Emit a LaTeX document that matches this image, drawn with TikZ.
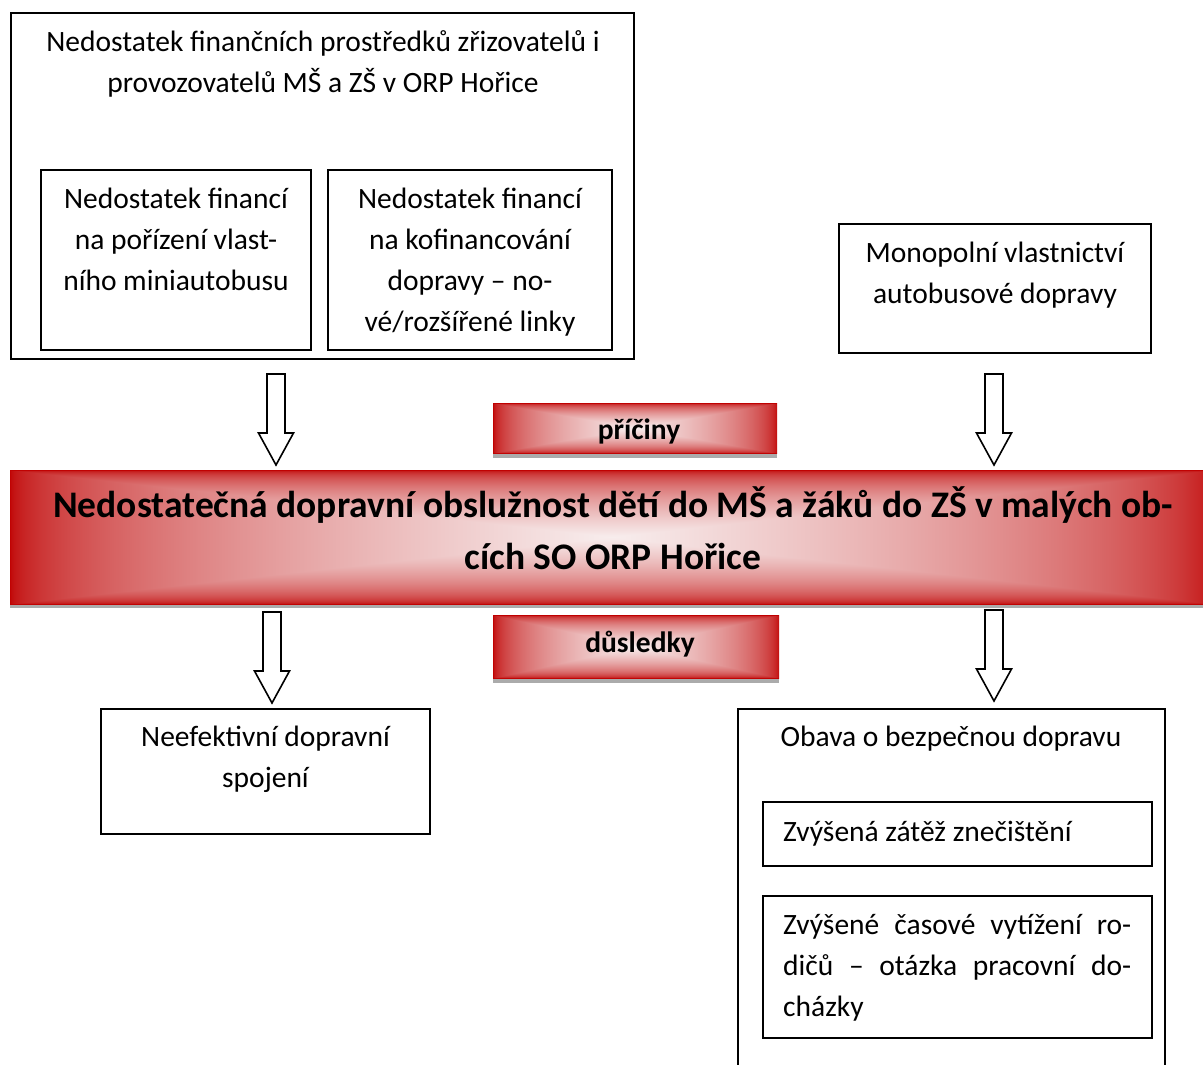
\documentclass[tikz,border=0pt]{standalone}
\usepackage{fontspec}
\setmainfont{Carlito}
\usetikzlibrary{calc}

% red banner, light in the middle, dark red at the rim
\pgfdeclarefunctionalshading{rectfade}{\pgfpointorigin}{\pgfpoint{100bp}{100bp}}{}{
 50 sub abs 25 div exch 50 sub abs 25 div
 2 copy sub abs add add 2 div
 dup 1 sub abs neg add 1 add 2 div
 1 exch sub sqrt
 dup 0.22 mul 0.75 add
 exch dup 0.93 mul exch 0.93 mul
}

\hyphenpenalty=10000
\tolerance=9999

\begin{document}
\begin{tikzpicture}[x=1pt,y=-1pt,
  box/.style={draw, line width=1.6pt, rectangle, inner sep=0pt},
  txt/.style={font=\fontsize{29.5}{41}\selectfont, align=center, inner sep=0pt, anchor=north},
  banner/.style={shade, shading=rectfade, inner sep=0pt},
  bannertxt/.style={font=\fontsize{29.5}{32}\selectfont\bfseries, inner sep=0pt},
  shadow/.style={fill=black!33},
  blockarr/.style={draw, line width=1.6pt, fill=white, line join=miter}]

\useasboundingbox (0,0) rectangle (1203,1065);

% causes
\node[box, minimum width=623, minimum height=346] (fin) at (322.5,186) {};
\node[txt] (fintxt) at (323,30) {Nedostatek finančních prostředků zřizovatelů i\\provozovatelů MŠ a ZŠ v ORP Hořice};
\node[box, minimum width=270, minimum height=180] (bus) at (176,260) {};
\node[txt] (bustxt) at (176,188) {Nedostatek financí\\na pořízení vlast-\\ního miniautobusu};
\node[box, minimum width=284, minimum height=180] (lines) at (470,260) {};
\node[txt] (linestxt) at (470,188) {Nedostatek financí\\na kofinancování\\dopravy – no-\\vé/rozšířené linky};
\node[box, minimum width=312, minimum height=129] (mono) at (995,288.5) {};
\node[txt] (monotxt) at (995,242) {Monopolní vlastnictví\\autobusové dopravy};

% banners
\fill[shadow] (493,408) rectangle (777,458);
\node[banner, minimum width=284, minimum height=50] (causes) at (635,428) {};
\node[bannertxt] (causestxt) at (639,431) {příčiny};

\fill[shadow] (10,474) rectangle (1214,608);
\node[banner, minimum width=1204, minimum height=134] (problem) at (612,537) {};
\node[font=\fontsize{37.5}{52}\selectfont\bfseries, align=center, inner sep=0pt] (problemtxt) at (613,528.5)
  {Nedostatečná dopravní obslužnost dětí do MŠ a žáků do ZŠ v malých ob-\\cích SO ORP Hořice};

\fill[shadow] (493,620) rectangle (779,683);
\node[banner, minimum width=286, minimum height=63] (effects) at (636,646.5) {};
\node[bannertxt] (effectstxt) at (640,644) {důsledky};

% effects
\node[box, minimum width=329, minimum height=125] (neef) at (265.5,771.5) {};
\node[txt] (neeftxt) at (265.5,726) {Neefektivní dopravní\\spojení};
\node[box, minimum width=427, minimum height=420] (safe) at (951.5,919) {};
\node[txt] (safetxt) at (951,726) {Obava o bezpečnou dopravu};
\node[box, minimum width=389, minimum height=64] (dirt) at (957.5,834) {};
\node[txt, anchor=north west, align=left] (dirttxt) at (783,821) {Zvýšená zátěž znečištění};
\node[box, minimum width=389, minimum height=142] (time) at (957.5,967) {};
\node[txt, anchor=north west, text width=348, align=justify] (timetxt) at (783,914)
  {Zvýšené časové vytížení ro-\linebreak dičů – otázka pracovní do-\linebreak cházky};

% block arrows
\coordinate (a1) at (276,374);
\coordinate (a2) at (994,374);
\coordinate (a3) at (272,612);
\coordinate (a4) at (994,610);
\foreach \a in {a1,a2,a3,a4}
  \draw[blockarr] (\a) ++(-9,0) -- ++(0,59) -- ++(-8.5,0) -- ++(17.5,32) -- ++(17.5,-32) -- ++(-8.5,0) -- ++(0,-59) -- cycle;
\end{tikzpicture}
\end{document}
